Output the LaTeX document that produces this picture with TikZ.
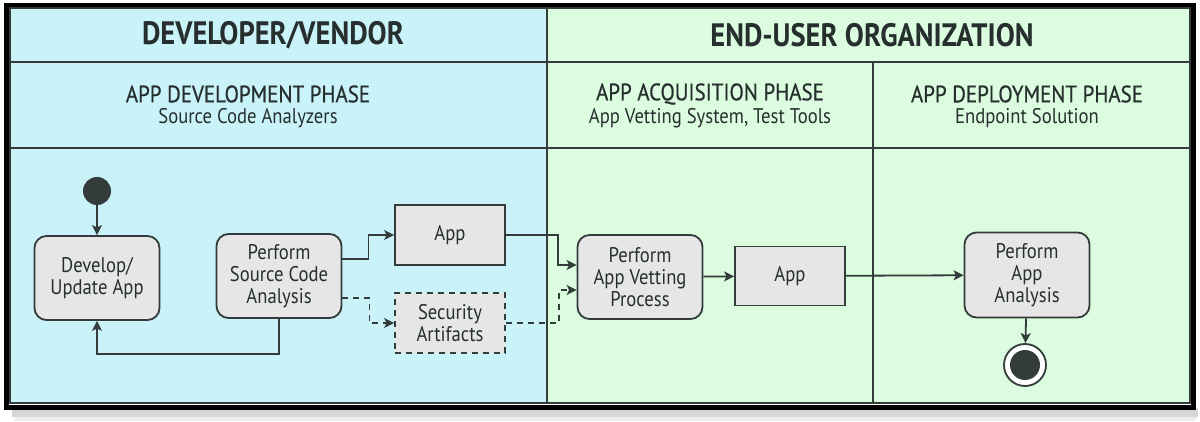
\documentclass[tikz,border=0pt]{standalone}
\usepackage{fontspec}
\setmainfont{PT Sans}[FakeStretch=0.88]
\newfontfamily\phasefont{PT Sans}[FakeStretch=0.88,FakeBold=0.6]
\usetikzlibrary{arrows.meta,positioning,calc}
\definecolor{devbg}{HTML}{C9F2F9}
\definecolor{endbg}{HTML}{DCFCE0}
\definecolor{nodefill}{HTML}{E6E6E6}
\definecolor{ink}{HTML}{333B3B}
\definecolor{txt}{HTML}{262E2E}
\begin{document}
\begin{tikzpicture}[x=0.5pt,y=-0.5pt,
  grid/.style={draw=ink,line width=1pt},
  actbox/.style={draw=ink,line width=0.9pt,fill=nodefill,rounded corners=6pt,align=center,
    text=txt,font=\fontsize{10.6}{10.9}\selectfont,minimum width=62.5pt,minimum height=42pt,inner sep=1pt},
  objbox/.style={draw=ink,line width=0.9pt,fill=nodefill,align=center,
    text=txt,font=\fontsize{10.6}{10.9}\selectfont,minimum width=55pt,minimum height=30pt,inner sep=1pt},
  flow/.style={draw=ink,line width=0.9pt,-{Stealth[length=5pt,width=5pt,inset=1.2pt]}},
  dflow/.style={flow,dash pattern=on 3pt off 2.5pt},
  head/.style={text=txt,font=\bfseries\fontsize{16.2}{17}\selectfont},
  phase/.style={text=txt,font=\phasefont\fontsize{11.9}{12.5}\selectfont},
  sub/.style={text=txt,font=\fontsize{10.6}{11}\selectfont}
]
\useasboundingbox (0,0) rectangle (1200,422);
% shadow
\fill[black!16] (12,408) rectangle (1198,417);
\fill[black!7] (14,417) rectangle (1196,421);
% frame
\fill[black] (4,3) rectangle (1196,410);
\fill[white] (9,7) rectangle (1191,405);
% backgrounds
\fill[devbg] (10,8) rectangle (547,403);
\fill[endbg] (547,8) rectangle (1190,403);
% grid lines
\draw[grid] (10,8) rectangle (1190,403);
\draw[grid] (10,62) -- (1190,62);
\draw[grid] (10,148) -- (1190,148);
\draw[grid] (547,8) -- (547,403);
\draw[grid] (873,62) -- (873,403);
% headers
\node[head] (hdev) at (273,35) {DEVELOPER/VENDOR};
\node[head] (hend) at (872,35) {END-USER ORGANIZATION};
\node[phase] (pdev) at (248,94) {APP DEVELOPMENT PHASE};
\node[sub]   (sdev) at (248,118) {Source Code Analyzers};
\node[phase] (pacq) at (710,94) {APP ACQUISITION PHASE};
\node[sub]   (sacq) at (710,118) {App Vetting System, Test Tools};
\node[phase] (pdep) at (1027,94) {APP DEPLOYMENT PHASE};
\node[sub]   (sdep) at (1027,118) {Endpoint Solution};
% nodes
\node[circle,fill=ink,minimum size=14pt,inner sep=0pt] (start) at (97,191) {};
\node[actbox] (dev) at (97,278) {Develop/\\Update App};
\node[actbox] (psca) at (279,276) {Perform\\Source Code\\Analysis};
\node[objbox] (app1) at (450,235) {App};
\node[objbox,dash pattern=on 3pt off 2.5pt] (sec) at (450,323) {Security\\Artifacts};
\node[actbox] (vet) at (640,277) {Perform\\App Vetting\\Process};
\node[objbox,minimum height=29.5pt] (app2) at (790,276) {App};
\node[actbox,minimum height=42.5pt] (paa) at (1027,275) {Perform\\App\\Analysis};
\node[circle,draw=ink,line width=0.9pt,fill=white,minimum size=21pt,inner sep=0pt] (end) at (1025,365) {};
\node[circle,fill=ink,minimum size=15pt,inner sep=0pt] (endin) at (end.center) {};
% connectors
\draw[flow] (start) -- (dev);
\draw[flow] (psca.south) -- ++(0,35) -| (dev.south);
\draw[flow] ([yshift=8.5pt]psca.east) -- ++(26,0) |- (app1.west);
\draw[dflow] ([yshift=-11pt]psca.east) -- ++(27,0) |- (sec.west);
\draw[flow] (app1.east) -- ++(52,0) |- ([yshift=6pt]vet.west);
\draw[dflow] (sec.east) -- ++(53,0) |- ([yshift=-6.5pt]vet.west);
\draw[flow] (vet) -- (app2);
\draw[flow] (app2) -- (paa);
\draw[flow] (paa) -- (end);
\end{tikzpicture}
\end{document}
